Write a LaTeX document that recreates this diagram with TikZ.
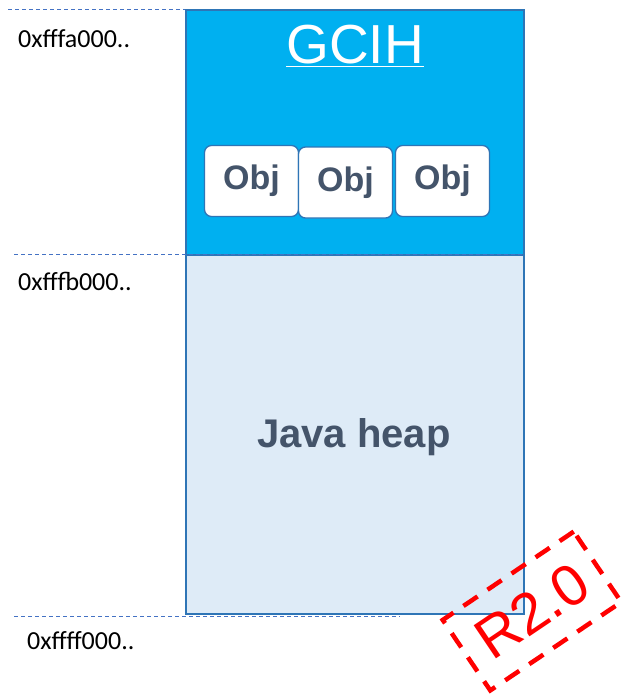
\documentclass[tikz,border=0pt]{standalone}
\usepackage{fontspec}
\setmainfont{Liberation Sans}
\newfontfamily\labelfont{Carlito}
\definecolor{gcihfill}{HTML}{00B0F0}
\definecolor{heapfill}{HTML}{DEEBF7}
\definecolor{edgeblue}{HTML}{2E75B6}
\definecolor{guideblue}{HTML}{4472C4}
\definecolor{slate}{HTML}{44546A}
\begin{document}
\begin{tikzpicture}[x=1pt,y=-1pt,
  region/.style={draw=edgeblue,line width=1.5pt},
  objbox/.style={draw=edgeblue,line width=1.3pt,fill=white,rounded corners=7pt,
    minimum width=94pt,minimum height=71pt,inner sep=0pt,
    font=\fontsize{34}{36}\selectfont\bfseries,text=slate},
  guide/.style={draw=guideblue,dashed,line width=0.6pt,dash pattern=on 4pt off 3pt},
  addr/.style={anchor=west,font=\labelfont\fontsize{26}{28}\selectfont,inner sep=0pt}]
\useasboundingbox (0,0) rectangle (625,696);
% memory regions
\node[region,fill=gcihfill,minimum width=338pt,minimum height=245pt,anchor=north west,inner sep=0pt] (gcih) at (185,9) {};
\node[region,fill=heapfill,minimum width=338pt,minimum height=359pt,anchor=north west,inner sep=0pt] (heap) at (185,254) {};
% titles
\node[text=white,font=\fontsize{55}{58}\selectfont,inner sep=0pt] (title) at (355,46) {\underline{GCIH}};
\node[text=slate,font=\fontsize{40}{44}\selectfont\bfseries,inner sep=0pt] (jheap) at (354,437) {Java heap};
% objects
\node[objbox] (o1) at (251.5,181) {\raisebox{-3pt}{Obj}};
\node[objbox] (o2) at (345.5,182.5) {\raisebox{-3pt}{Obj}};
\node[objbox] (o3) at (442.5,181) {\raisebox{-3pt}{Obj}};
% address guides
\coordinate (g1) at (8,9);
\coordinate (g2) at (14,254);
\coordinate (g3) at (14,616);
\coordinate (g3e) at (400,616);
\draw[guide] (g1) -- (gcih.north west);
\draw[guide] (g2) -- (heap.north east);
\draw[guide] (g3) -- (g3e);
\node[addr] (a1) at (18,39) {0xfffa000..};
\node[addr] (a2) at (18,281) {0xfffb000..};
\node[addr] (a3) at (27,641) {0xffff000..};
% revision stamp
\node[rotate=34,draw=red,line width=4.5pt,dash pattern=on 17pt off 12pt,
  minimum width=158pt,minimum height=85pt,text=red,
  font=\fontsize{58}{62}\selectfont] (stamp) at (532,611) {R2.0};
\end{tikzpicture}
\end{document}
